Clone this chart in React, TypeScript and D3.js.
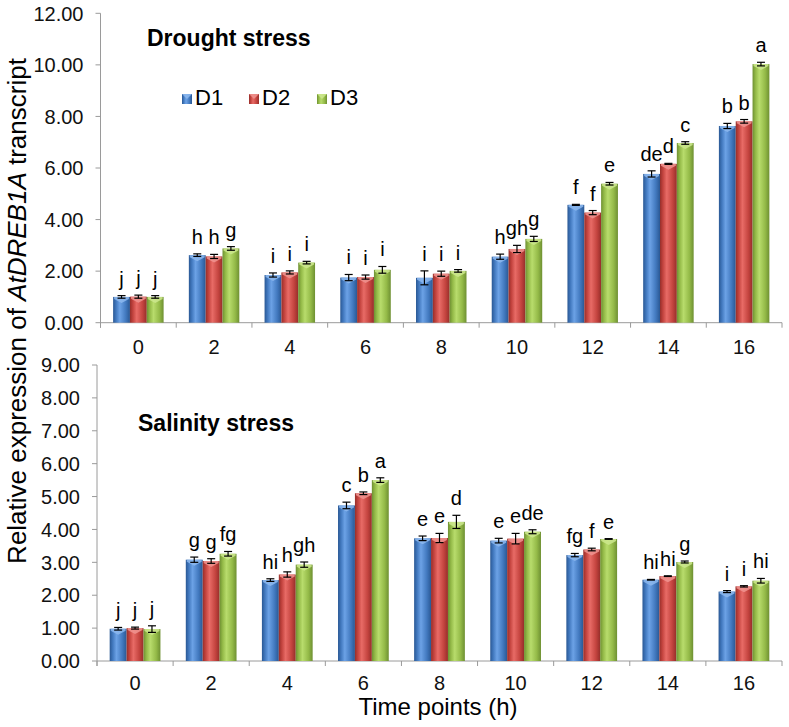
import React from 'react';
import * as d3 from 'd3';

const timePoints = ['0', '2', '4', '6', '8', '10', '12', '14', '16'];
const seriesNames = ['D1', 'D2', 'D3'];

const droughtD1 = [1.0, 2.62, 1.85, 1.75, 1.74, 2.56, 4.57, 5.77, 7.63];
const droughtD2 = [1.01, 2.57, 1.95, 1.77, 1.9, 2.86, 4.27, 6.16, 7.81];
const droughtD3 = [1.0, 2.88, 2.33, 2.05, 2.01, 3.25, 5.39, 6.97, 10.03];
const droughtErrD1 = [0.05, 0.05, 0.08, 0.12, 0.27, 0.1, 0.02, 0.12, 0.1];
const droughtErrD2 = [0.06, 0.08, 0.06, 0.08, 0.1, 0.14, 0.08, 0.02, 0.07];
const droughtErrD3 = [0.05, 0.07, 0.05, 0.13, 0.05, 0.1, 0.05, 0.05, 0.07];
const droughtLabelsD1 = ['j', 'h', 'i', 'i', 'i', 'h', 'f', 'de', 'b'];
const droughtLabelsD2 = ['j', 'h', 'i', 'i', 'i', 'gh', 'f', 'd', 'b'];
const droughtLabelsD3 = ['j', 'g', 'i', 'i', 'i', 'g', 'e', 'c', 'a'];

const salinityD1 = [0.98, 3.08, 2.46, 4.73, 3.73, 3.66, 3.22, 2.47, 2.11];
const salinityD2 = [1.0, 3.04, 2.63, 5.1, 3.74, 3.72, 3.39, 2.58, 2.27];
const salinityD3 = [0.97, 3.26, 2.93, 5.5, 4.23, 3.93, 3.71, 3.01, 2.44];
const salinityErrD1 = [0.04, 0.08, 0.04, 0.1, 0.07, 0.07, 0.05, 0.01, 0.03];
const salinityErrD2 = [0.03, 0.07, 0.08, 0.04, 0.14, 0.16, 0.04, 0.01, 0.02];
const salinityErrD3 = [0.1, 0.07, 0.08, 0.07, 0.2, 0.06, 0.01, 0.03, 0.07];
const salinityLabelsD1 = ['j', 'g', 'hi', 'c', 'e', 'e', 'fg', 'hi', 'i'];
const salinityLabelsD2 = ['j', 'g', 'h', 'b', 'e', 'e', 'f', 'hi', 'i'];
const salinityLabelsD3 = ['j', 'fg', 'gh', 'a', 'd', 'de', 'e', 'g', 'hi'];

const droughtTicks = [0, 2, 4, 6, 8, 10, 12];
const salinityTicks = [0, 1, 2, 3, 4, 5, 6, 7, 8, 9];

const seriesColors = [
  { base: '#4279BF', light: '#6CA2E6', dark: '#2A5894', cap: '#8DB8EE' },
  { base: '#C4443F', light: '#E86B66', dark: '#962E2A', cap: '#F09490' },
  { base: '#94BA48', light: '#B8DC6C', dark: '#6E9032', cap: '#CDE88E' },
];

const FONT = '"Liberation Sans", Arial, sans-serif';

type PanelProps = {
  id: string;
  title: string;
  titleX: number;
  titleY: number;
  values: number[][];
  errs: number[][];
  labels: string[][];
  ticks: number[];
  yMax: number;
  left: number;
  right: number;
  yTop: number;
  yBottom: number;
  xLabelY: number;
  showLegend: boolean;
};

function Panel(p: PanelProps) {
  const x = d3.scaleBand<string>().domain(timePoints).range([p.left, p.right]).padding(0);
  const inner = d3
    .scaleBand<string>()
    .domain(seriesNames)
    .range([0, x.bandwidth()])
    .paddingInner(0)
    .paddingOuter(0.75);
  const y = d3.scaleLinear().domain([0, p.yMax]).range([p.yBottom, p.yTop]);
  const axisColor = '#9a9a9a';
  const bw = inner.bandwidth();
  const boundaries = timePoints.map((t) => x(t)!).concat([p.right]);

  return (
    <g>
      <line x1={p.left} x2={p.left} y1={y(p.yMax)} y2={p.yBottom + 5} stroke={axisColor} strokeWidth={1} />
      {p.ticks.map((t) => (
        <g key={'yt' + t}>
          <line x1={p.left - 5} x2={p.left} y1={y(t)} y2={y(t)} stroke={axisColor} />
          <text
            x={p.left - 17}
            y={y(t)}
            dy="0.36em"
            textAnchor="end"
            fontFamily={FONT}
            fontSize={20}
            fill="#111"
          >
            {d3.format('.2f')(t)}
          </text>
        </g>
      ))}
      <line x1={p.left} x2={p.right} y1={p.yBottom} y2={p.yBottom} stroke={axisColor} />
      {boundaries.map((b, i) => (
        <line key={'xt' + i} x1={b} x2={b} y1={p.yBottom} y2={p.yBottom + 5} stroke={axisColor} />
      ))}
      {timePoints.map((t) => (
        <text
          key={'xl' + t}
          x={x(t)! + x.bandwidth() / 2}
          y={p.xLabelY}
          textAnchor="middle"
          fontFamily={FONT}
          fontSize={20}
          fill="#111"
        >
          {t}
        </text>
      ))}
      {seriesNames.map((s, si) => (
        <g key={s}>
          {timePoints.map((t, ci) => {
            const v = p.values[si][ci];
            const e = p.errs[si][ci];
            const x0 = x(t)! + inner(s)!;
            const yTopBar = y(v);
            const h = p.yBottom - yTopBar;
            const cx = x0 + bw / 2;
            const capH = Math.min(6, h / 2);
            const eTop = y(v + e);
            const eBot = y(Math.max(0, v - e));
            return (
              <g key={t}>
                <rect x={x0} y={yTopBar} width={bw} height={h} fill={`url(#${p.id}-g${si})`} />
                <polygon
                  points={`${x0 + 1},${yTopBar} ${x0 + bw - 1},${yTopBar} ${x0 + bw - 1},${yTopBar + 2} ${cx},${
                    yTopBar + capH
                  } ${x0 + 1},${yTopBar + 2}`}
                  fill={seriesColors[si].cap}
                  opacity={0.85}
                />
                <line x1={cx} x2={cx} y1={eTop} y2={eBot} stroke="#000" strokeWidth={1.2} />
                <line x1={cx - 4} x2={cx + 4} y1={eTop} y2={eTop} stroke="#000" strokeWidth={1.2} />
                <line x1={cx - 4} x2={cx + 4} y1={eBot} y2={eBot} stroke="#000" strokeWidth={1.2} />
                <text
                  x={cx}
                  y={eTop - 10}
                  textAnchor="middle"
                  fontFamily={FONT}
                  fontSize={20}
                  fill="#000"
                >
                  {p.labels[si][ci]}
                </text>
              </g>
            );
          })}
        </g>
      ))}
      <text x={p.titleX} y={p.titleY} fontFamily={FONT} fontSize={23} fontWeight="bold" fill="#000">
        {p.title}
      </text>
      {p.showLegend &&
        seriesNames.map((s, si) => {
          const lx = [182, 249, 317][si];
          return (
            <g key={'lg' + s}>
              <rect x={lx} y={94} width={10} height={10} fill={`url(#${p.id}-g${si})`} />
              <polygon
                points={`${lx},94 ${lx + 10},94 ${lx + 5},99`}
                fill={seriesColors[si].cap}
                opacity={0.85}
              />
              <text x={lx + 13} y={105} fontFamily={FONT} fontSize={22} fill="#000">
                {s}
              </text>
            </g>
          );
        })}
    </g>
  );
}

export default function App() {
  const defs = ['top', 'bot'].map((id) =>
    seriesColors.map((c, si) => (
      <linearGradient key={id + si} id={`${id}-g${si}`} x1="0" x2="1" y1="0" y2="0">
        <stop offset="0%" stopColor={c.dark} />
        <stop offset="18%" stopColor={c.base} />
        <stop offset="40%" stopColor={c.light} />
        <stop offset="75%" stopColor={c.base} />
        <stop offset="100%" stopColor={c.dark} />
      </linearGradient>
    ))
  );

  return (
    <svg
      width={789}
      height={727}
      style={{ position: 'absolute', left: 0, top: 0, background: '#fff' }}
    >
      <defs>{defs}</defs>
      <rect x={0} y={0} width={789} height={727} fill="#fff" />
      <Panel
        id="top"
        title="Drought stress"
        titleX={147}
        titleY={46}
        values={[droughtD1, droughtD2, droughtD3]}
        errs={[droughtErrD1, droughtErrD2, droughtErrD3]}
        labels={[droughtLabelsD1, droughtLabelsD2, droughtLabelsD3]}
        ticks={droughtTicks}
        yMax={12}
        left={100.5}
        right={782}
        yTop={13.3}
        yBottom={322.7}
        xLabelY={354}
        showLegend={true}
      />
      <Panel
        id="bot"
        title="Salinity stress"
        titleX={138}
        titleY={431}
        values={[salinityD1, salinityD2, salinityD3]}
        errs={[salinityErrD1, salinityErrD2, salinityErrD3]}
        labels={[salinityLabelsD1, salinityLabelsD2, salinityLabelsD3]}
        ticks={salinityTicks}
        yMax={9}
        left={97}
        right={782}
        yTop={365}
        yBottom={661}
        xLabelY={690}
        showLegend={false}
      />
      <text
        transform="translate(26,311) rotate(-90)"
        textAnchor="middle"
        fontFamily={FONT}
        fontSize={26}
        fill="#000"
      >
        Relative expression of <tspan fontStyle="italic">AtDREB1A</tspan> transcript
      </text>
      <text x={438} y={715} textAnchor="middle" fontFamily={FONT} fontSize={24} fill="#000">
        Time points (h)
      </text>
    </svg>
  );
}
